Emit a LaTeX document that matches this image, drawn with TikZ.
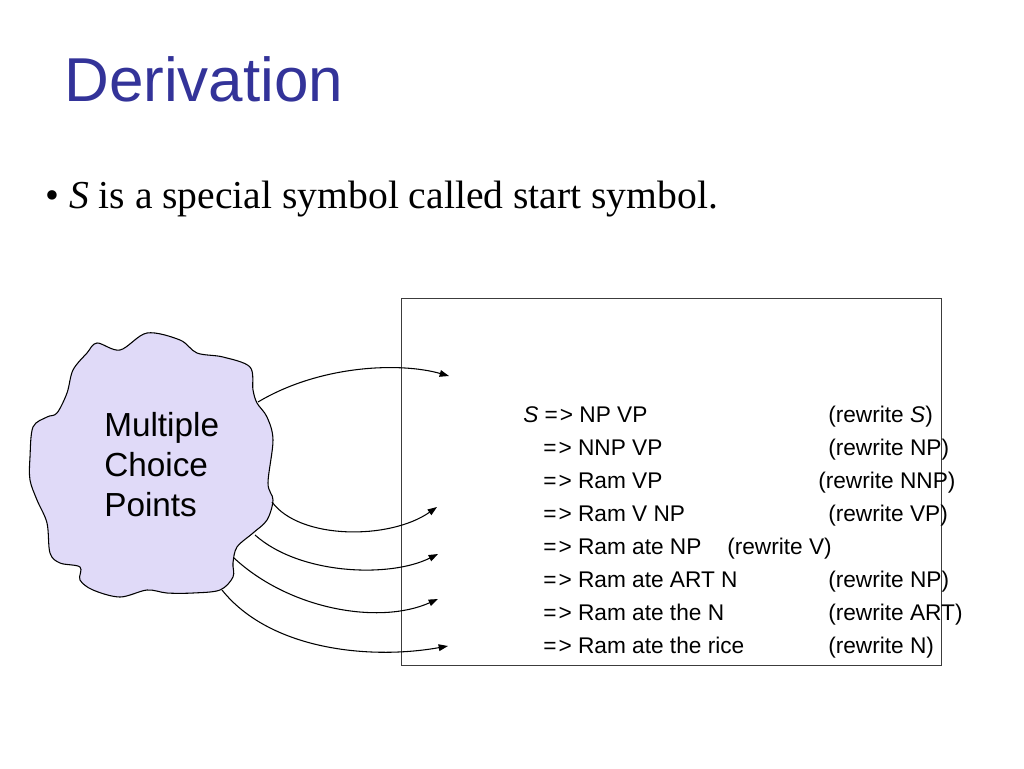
\documentclass[tikz,border=0pt]{standalone}
\usepackage{fontspec}
\setmainfont{Liberation Serif}
\newfontfamily\sansfam{Liberation Sans}
\usetikzlibrary{arrows.meta}
\definecolor{titleblue}{RGB}{51,51,153}
\definecolor{cloudfill}{RGB}{224,218,248}
\definecolor{boxgray}{RGB}{60,60,60}
\begin{document}
\begin{tikzpicture}[x=0.75pt,y=-0.75pt]
\tikzset{
  txt/.style={anchor=base west, inner sep=0pt},
  deriv/.style={txt, font=\sansfam\fontsize{17}{18}\selectfont},
  cloudtxt/.style={txt, font=\sansfam\fontsize{25}{30}\selectfont},
  arr/.style={-{Triangle[length=7pt,width=5pt]}, line width=0.8pt},
}
\useasboundingbox (0,0) rectangle (1024,768);
\fill[white] (0,0) rectangle (1024,768);

\node[txt, text=titleblue, font=\sansfam\fontsize{46.5}{50}\selectfont] (title) at (64,101) {Derivation};
\node[txt, font=\fontsize{29.7}{32}\selectfont] (bullet) at (45,208) {\textbullet\ \textit{S} is a special symbol called start symbol.};

\node[draw=boxgray, line width=0.75pt, inner sep=0pt, minimum width=405pt, minimum height=275.25pt, anchor=north west] (box) at (401,298) {};

\draw[fill=cloudfill, draw=black, line width=0.8pt] plot[smooth cycle, tension=0.55] coordinates {
(87,353) (97,343) (120,350) (147,333) (180,340) (197,353) (223,357) (250,367) (253,390) (257,403) (267,417) (273,440) (268,483) (273,500) (267,520) (253,533) (237,547) (233,563) (233,577) (220,590) (193,593) (167,593) (147,590) (120,597) (93,590) (80,580) (80,567) (60,563) (50,553) (47,523) (37,500) (30,480) (30,457) (33,427) (47,417) (57,413) (67,393) (73,370)};
\node[cloudtxt] (m1) at (104,436) {Multiple};
\node[cloudtxt] (m2) at (104,476) {Choice};
\node[cloudtxt] (m3) at (104,516) {Points};

\coordinate (s1) at (258,402); \coordinate (e1) at (449,376);
\coordinate (s2) at (272,502); \coordinate (e2) at (437,507);
\coordinate (s3) at (255,535); \coordinate (e3) at (438,554);
\coordinate (s4) at (234,558); \coordinate (e4) at (438,599);
\coordinate (s5) at (222,590); \coordinate (e5) at (448,646);
\draw[arr] (s1) .. controls (320,365) and (400,362) .. (e1);
\draw[arr] (s2) .. controls (300,540) and (390,540) .. (e2);
\draw[arr] (s3) .. controls (300,575) and (390,578) .. (e3);
\draw[arr] (s4) .. controls (290,610) and (380,625) .. (e4);
\draw[arr] (s5) .. controls (270,650) and (370,660) .. (e5);

\node[deriv] (l1) at (523,422) {\textit{S} =\kern1.5pt> NP VP};
\node[deriv] (l2) at (543,455) {=\kern1.5pt> NNP VP};
\node[deriv] (l3) at (543,488) {=\kern1.5pt> Ram VP};
\node[deriv] (l4) at (543,521) {=\kern1.5pt> Ram V NP};
\node[deriv] (l5) at (543,554) {=\kern1.5pt> Ram ate NP};
\node[deriv] (l6) at (543,587) {=\kern1.5pt> Ram ate ART N};
\node[deriv] (l7) at (543,620) {=\kern1.5pt> Ram ate the N};
\node[deriv] (l8) at (543,653) {=\kern1.5pt> Ram ate the rice};
\node[deriv] (r1) at (828,422) {(rewrite \textit{S})};
\node[deriv] (r2) at (828,455) {(rewrite NP)};
\node[deriv] (r3) at (818,488) {(rewrite NNP)};
\node[deriv] (r4) at (828,521) {(rewrite VP)};
\node[deriv] (r5) at (727,554) {(rewrite V)};
\node[deriv] (r6) at (828,587) {(rewrite NP)};
\node[deriv] (r7) at (828,620) {(rewrite ART)};
\node[deriv] (r8) at (828,653) {(rewrite N)};
\end{tikzpicture}
\end{document}
